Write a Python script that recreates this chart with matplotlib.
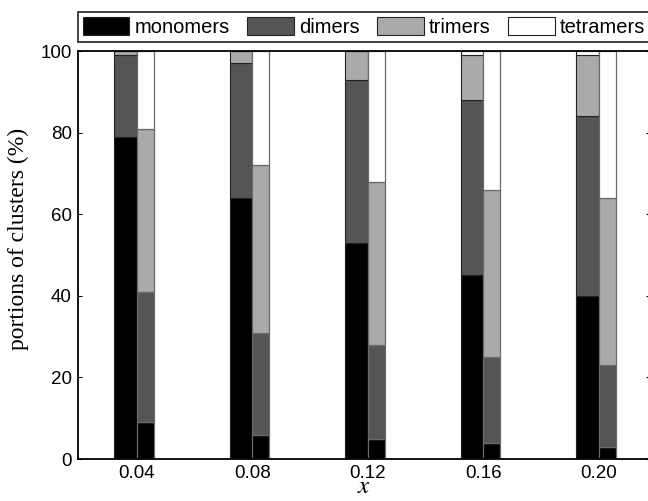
import matplotlib
matplotlib.use("Agg")
import matplotlib.pyplot as plt
import numpy as np

plt.rcParams["mathtext.fontset"] = "stix"

# ---- data ----
x_vals = [0.04, 0.08, 0.12, 0.16, 0.20]
x_labels = ["0.04", "0.08", "0.12", "0.16", "0.20"]
series = ["monomers", "dimers", "trimers", "tetramers"]
colors = ["#000000", "#555555", "#aaaaaa", "#ffffff"]

# left bar of each pair (segment heights, %)
mono_a = [79, 64, 53, 45, 40]
dim_a = [20, 33, 40, 43, 44]
tri_a = [1, 3, 7, 11, 15]
tet_a = [0, 0, 0, 1, 1]

# right bar of each pair (segment heights, %)
mono_b = [9, 6, 5, 4, 3]
dim_b = [32, 25, 23, 21, 20]
tri_b = [40, 41, 40, 41, 41]
tet_b = [19, 28, 32, 34, 36]

y_ticks = [0, 20, 40, 60, 80, 100]

# ---- figure ----
W, H = 648, 501
fig = plt.figure(figsize=(W / 100, H / 100), dpi=100)
ax = fig.add_axes([78 / W, 42 / H, 572 / W, 408 / H])

tickfont = "Liberation Sans"
serif = "Liberation Serif"

w_left = 0.0078
w_right = 0.0058
x = np.array(x_vals)

segs_a = [mono_a, dim_a, tri_a, tet_a]
segs_b = [mono_b, dim_b, tri_b, tet_b]

bottom = np.zeros(len(x))
handles = []
for vals, c, name in zip(segs_a, colors, series):
    h = ax.bar(x - w_left, vals, width=w_left, bottom=bottom, align="edge",
               color=c, edgecolor="#222222", linewidth=0.8, label=name, zorder=2)
    handles.append(h)
    bottom = bottom + np.array(vals)

bottom = np.zeros(len(x))
for vals, c in zip(segs_b, colors):
    ax.bar(x, vals, width=w_right, bottom=bottom, align="edge",
           color=c, edgecolor="#6a6a6a", linewidth=0.9, zorder=2)
    bottom = bottom + np.array(vals)

ax.set_xlim(0.04 - 59 / 2887.5, 0.20 + 51 / 2887.5)
ax.set_ylim(0, 100)
ax.set_xticks(x_vals)
ax.set_xticklabels(x_labels, fontfamily=tickfont, fontsize=13.5)
ax.set_yticks(y_ticks)
ax.set_yticklabels([str(v) for v in y_ticks], fontfamily=tickfont, fontsize=13.5)
ax.tick_params(axis="both", direction="in", length=3, width=0.8)
ax.tick_params(axis="y", right=True, pad=4.5)
ax.tick_params(axis="x", top=False, pad=4.5)

for s in ax.spines.values():
    s.set_linewidth(1.3)
    s.set_color("black")

ax.set_ylabel("portions of clusters (%)", fontfamily=serif, fontsize=17, labelpad=10)
ax.yaxis.set_label_coords(-0.085, 0.54)
ax.set_xlabel("$x$", fontsize=18, labelpad=0)
ax.xaxis.label.set_verticalalignment("bottom")
ax.xaxis.set_label_coords(0.5, -0.0955)

leg = ax.legend(handles=handles, labels=series, ncol=4, mode="expand",
                loc="lower left", bbox_to_anchor=(0, 1.022, 1, 0.076),
                borderaxespad=0, frameon=True, fancybox=False,
                prop={"family": tickfont, "size": 14.5},
                handlelength=2.3, handleheight=0.95, handletextpad=0.25,
                borderpad=0.25, columnspacing=1.0)
leg.get_frame().set_edgecolor("black")
leg.get_frame().set_linewidth(1.3)
for p in leg.get_patches():
    p.set_edgecolor("#222222")
    p.set_linewidth(0.8)

fig.savefig("out.png", dpi=100)
